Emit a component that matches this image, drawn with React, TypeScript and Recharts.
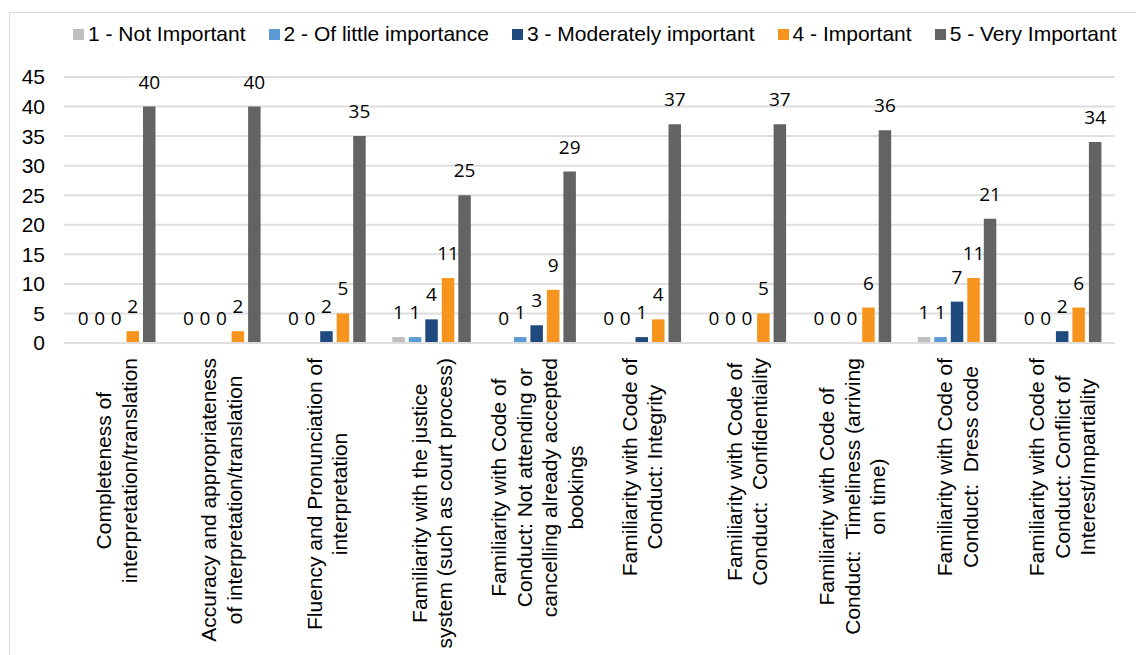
import React from 'react'
import {
  BarChart,
  Bar,
  XAxis,
  YAxis,
  CartesianGrid,
  Legend,
  LabelList,
} from 'recharts'

const categories = [
  'Completeness of\ninterpretation/translation',
  'Accuracy and appropriateness\nof interpretation/translation',
  'Fluency and Pronunciation of\ninterpretation',
  'Familiarity with the justice\nsystem (such as court process)',
  'Familiarity with Code of\nConduct: Not attending or\ncancelling already accepted\nbookings',
  'Familiarity with Code of\nConduct: Integrity',
  'Familiarity with Code of\nConduct:  Confidentiality',
  'Familiarity with Code of\nConduct:  Timeliness (arriving\non time)',
  'Familiarity with Code of\nConduct:  Dress code',
  'Familiarity with Code of\nConduct: Conflict of\nInterest/Impartiality',
]

const notImportant = [0, 0, 0, 1, 0, 0, 0, 0, 1, 0]
const littleImportance = [0, 0, 0, 1, 1, 0, 0, 0, 1, 0]
const moderatelyImportant = [0, 0, 2, 4, 3, 1, 0, 0, 7, 2]
const important = [2, 2, 5, 11, 9, 4, 5, 6, 11, 6]
const veryImportant = [40, 40, 35, 25, 29, 37, 37, 36, 21, 34]

const yTicks = [0, 5, 10, 15, 20, 25, 30, 35, 40, 45]

const series = [
  { key: 's1', name: '1 - Not Important', color: '#BFBFBF', values: notImportant },
  { key: 's2', name: '2 - Of little importance', color: '#5B9BD5', values: littleImportance },
  { key: 's3', name: '3 - Moderately important', color: '#1F4A7D', values: moderatelyImportant },
  { key: 's4', name: '4 - Important', color: '#F7941D', values: important },
  { key: 's5', name: '5 - Very Important', color: '#636363', values: veryImportant },
]

const data = categories.map((label, i) => {
  const row: Record<string, string | number> = { label }
  series.forEach((s) => {
    row[s.key] = s.values[i]
  })
  return row
})

const FONT = "'Liberation Sans', Arial, sans-serif"
const VALUE_FONT = "'Open Sans', 'Noto Sans', sans-serif"
const LINE_H = 25.5

let measureCtx: CanvasRenderingContext2D | null = null
function textWidth(str: string) {
  if (!measureCtx) {
    measureCtx = document.createElement('canvas').getContext('2d')
  }
  if (!measureCtx) return str.length * 10
  measureCtx.font = `21px ${FONT}`
  return measureCtx.measureText(str).width
}

// rotated, multi-line category label; lines centred on each other, block hangs from the axis
function CategoryTick({ x, y, payload }: { x?: number; y?: number; payload?: { value: string } }) {
  if (!payload) return null
  const lines = String(payload.value).split('\n')
  const maxW = Math.max(...lines.map(textWidth))
  const n = lines.length
  return (
    <g transform={`translate(${x},${(y ?? 0) + 15})`}>
      {lines.map((line, i) => (
        <text
          key={i}
          transform="rotate(-90)"
          x={-maxW / 2}
          y={(i - (n - 1) / 2) * LINE_H}
          textAnchor="middle"
          dominantBaseline="central"
          fontSize={21}
          fontFamily={FONT}
          fill="#000"
          style={{ whiteSpace: 'pre' }}
        >
          {line}
        </text>
      ))}
    </g>
  )
}

// value above each bar, zeros included
function ValueLabel(props: any) {
  const { x, y, width, value } = props
  if (value == null) return null
  return (
    <text
      x={Number(x) + Number(width) / 2}
      y={Number(y) - 18}
      textAnchor="middle"
      fontSize={19}
      fontFamily={VALUE_FONT}
      fill="#000"
    >
      {value}
    </text>
  )
}

function LegendRow() {
  return (
    <div style={{ display: 'flex', alignItems: 'center', fontFamily: FONT, fontSize: 21, lineHeight: '22px', color: '#000', whiteSpace: 'nowrap' }}>
      {series.map((s) => (
        <div key={s.key} style={{ display: 'flex', alignItems: 'center', marginRight: 23 }}>
          <span style={{ width: 11, height: 11, background: s.color, display: 'inline-block', marginRight: 4 }} />
          <span>{s.name}</span>
        </div>
      ))}
    </div>
  )
}

export default function App() {
  return (
    <div style={{ position: 'fixed', left: 0, top: 0, width: 1136, height: 655, overflow: 'hidden', background: '#fff' }}>
      <div
        style={{
          position: 'absolute',
          left: 9,
          top: 12,
          width: 1160,
          height: 700,
          border: '1px solid #D9D9D9',
        }}
      />
      <div style={{ position: 'absolute', left: 0, top: 0 }}>
        <BarChart
          width={1136}
          height={655}
          data={data}
          margin={{ top: 77, right: 21, bottom: 12, left: 0 }}
          barSize={12.5}
          barGap={4}
          style={{ fontFamily: FONT }}
        >
          <CartesianGrid vertical={false} stroke="#DEDEDE" strokeWidth={2} />
          <XAxis
            dataKey="label"
            interval={0}
            height={300}
            tickLine={false}
            tickSize={0}
            tickMargin={0}
            axisLine={{ stroke: '#DEDEDE', strokeWidth: 2 }}
            tick={<CategoryTick />}
          />
          <YAxis
            width={64}
            domain={[0, 45]}
            ticks={yTicks}
            interval={0}
            axisLine={false}
            tickLine={false}
            tickSize={0}
            tickMargin={19}
            tick={{ fill: '#000', fontSize: 21, fontFamily: FONT }}
          />
          <Legend
            layout="horizontal"
            verticalAlign="middle"
            align="center"
            wrapperStyle={{ top: 23, left: 73, width: 1060, height: 22 }}
            content={<LegendRow />}
          />
          {series.map((s) => (
            <Bar
              key={s.key}
              dataKey={s.key}
              name={s.name}
              fill={s.color}
              minPointSize={0.01}
              isAnimationActive={false}
            >
              <LabelList dataKey={s.key} content={<ValueLabel />} />
            </Bar>
          ))}
        </BarChart>
      </div>
    </div>
  )
}
